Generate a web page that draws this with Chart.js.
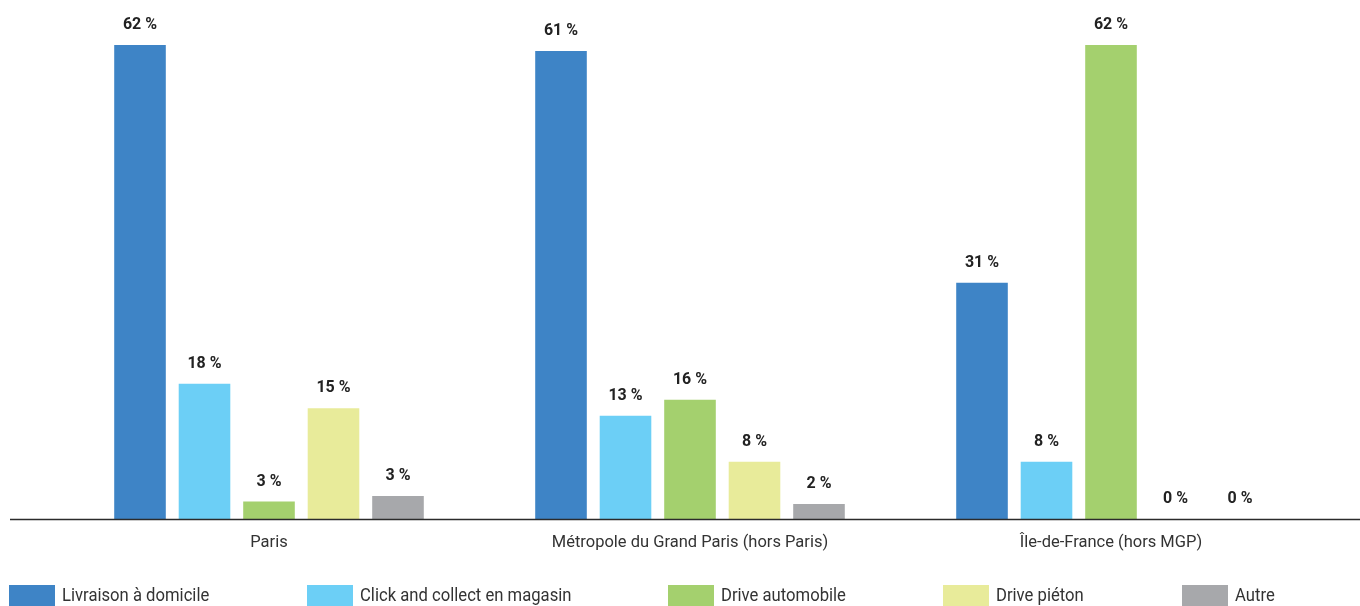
<!DOCTYPE html>
<html>
<head>
<meta charset="utf-8">
<script src="https://cdn.jsdelivr.net/npm/chart.js@4.4.1/dist/chart.umd.min.js"></script>
<style>
html,body{margin:0;padding:0;background:#fff;}
#wrap{position:relative;width:1360px;height:606px;}
</style>
</head>
<body>
<div id="wrap"><canvas id="c" width="1360" height="606"></canvas></div>
<script>
const categories = ["Paris", "Métropole du Grand Paris (hors Paris)", "Île-de-France (hors MGP)"];
const seriesNames = ["Livraison à domicile", "Click and collect en magasin", "Drive automobile", "Drive piéton", "Autre"];
const livraison = [62, 61.2, 30.9];
const clickCollect = [17.7, 13.5, 7.5];
const driveAuto = [2.3, 15.6, 62];
const drivePieton = [14.5, 7.5, 0];
const autre = [3.0, 1.96, 0];
const livraisonLabels = ["62 %", "61 %", "31 %"];
const clickCollectLabels = ["18 %", "13 %", "8 %"];
const driveAutoLabels = ["3 %", "16 %", "62 %"];
const drivePietonLabels = ["15 %", "8 %", "0 %"];
const autreLabels = ["3 %", "2 %", "0 %"];
const colors = ["#3e84c6", "#6ccff6", "#a4d06e", "#e8eb9a", "#a7a8ab"];

const allValues = [livraison, clickCollect, driveAuto, drivePieton, autre];
const allLabels = [livraisonLabels, clickCollectLabels, driveAutoLabels, drivePietonLabels, autreLabels];

const FONT = "Roboto, 'Noto Sans', sans-serif";

function condensedText(ctx, text, x, y, sx) {
  ctx.save();
  ctx.translate(x, y);
  ctx.scale(sx, 1);
  ctx.fillText(text, 0, 0);
  ctx.restore();
}

const valueLabelPlugin = {
  id: 'valueLabels',
  afterDatasetsDraw(chart) {
    const ctx = chart.ctx;
    ctx.save();
    ctx.font = "bold 17px " + FONT;
    ctx.fillStyle = "#222";
    ctx.textAlign = "center";
    ctx.textBaseline = "middle";
    chart.data.datasets.forEach((ds, di) => {
      const meta = chart.getDatasetMeta(di);
      meta.data.forEach((bar, i) => {
        condensedText(ctx, allLabels[di][i], bar.x, bar.y - 20, 0.94);
      });
    });
    ctx.restore();
  }
};

const axisLinePlugin = {
  id: 'axisLine',
  afterDatasetsDraw(chart) {
    const ctx = chart.ctx;
    const y = chart.scales.y.getPixelForValue(0);
    ctx.save();
    ctx.strokeStyle = "#2b2b2b";
    ctx.lineWidth = 1.5;
    ctx.beginPath();
    ctx.moveTo(10, y + 0.5);
    ctx.lineTo(1360, y + 0.5);
    ctx.stroke();
    ctx.restore();
  }
};

const legendPositions = [9, 307, 668, 943, 1182];
const legendPlugin = {
  id: 'customLegend',
  afterDraw(chart) {
    const ctx = chart.ctx;
    ctx.save();
    ctx.font = "18px " + FONT;
    ctx.textBaseline = "middle";
    ctx.textAlign = "left";
    seriesNames.forEach((name, i) => {
      const x = legendPositions[i];
      ctx.fillStyle = colors[i];
      ctx.fillRect(x, 585, 46, 22);
      ctx.fillStyle = "#333";
      condensedText(ctx, name, x + 53, 596, 0.925);
    });
    ctx.restore();
  }
};

new Chart(document.getElementById('c'), {
  type: 'bar',
  data: {
    labels: categories,
    datasets: seriesNames.map((name, i) => ({
      label: name,
      data: allValues[i],
      backgroundColor: colors[i],
      borderWidth: 0,
      barPercentage: 0.8,
      categoryPercentage: 0.766
    }))
  },
  options: {
    responsive: false,
    animation: false,
    layout: { padding: { left: 58.5, right: 38.5, top: 45, bottom: 0 } },
    plugins: { legend: { display: false }, tooltip: { enabled: false } },
    scales: {
      x: {
        grid: { display: false, drawTicks: false },
        border: { display: false },
        ticks: { color: "#333", font: { family: FONT, size: 16.5 }, padding: 14, maxRotation: 0 },
        afterFit(s) { s.height = 87; }
      },
      y: {
        display: false,
        min: 0,
        max: 62
      }
    }
  },
  plugins: [axisLinePlugin, valueLabelPlugin, legendPlugin]
});
</script>
</body>
</html>
